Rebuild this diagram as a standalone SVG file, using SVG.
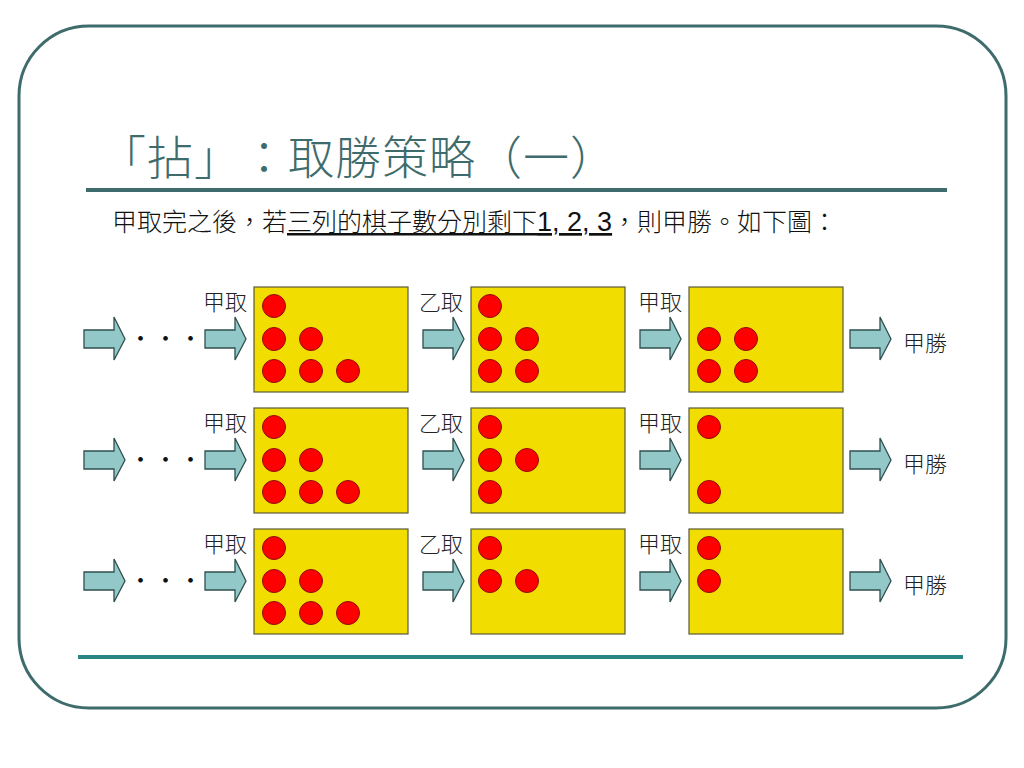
<svg xmlns="http://www.w3.org/2000/svg" xmlns:xlink="http://www.w3.org/1999/xlink" width="1024" height="768" viewBox="0 0 1024 768">
<style>
text{text-spacing-trim:space-all}
.frame{fill:none;stroke:#3e6b6b;stroke-width:3}
.box{fill:#f2dd00;stroke:#5a5a3a;stroke-width:1.2}
.chip{fill:#ff0000;stroke:#8a1010;stroke-width:1}
.arr{fill:#93c8c8;stroke:#2f4f4f;stroke-width:1.3;stroke-linejoin:miter}
.lbl{font-family:"Noto Sans CJK TC","Noto Sans CJK SC",sans-serif;font-size:22px;fill:#222;font-weight:300}
.sub{font-family:"Liberation Sans","Noto Sans CJK TC",sans-serif;font-size:25px;fill:#111;font-weight:300}
.title{font-family:"Noto Sans CJK TC",sans-serif;font-size:46px;fill:#3e6b6b;font-weight:300;letter-spacing:1px}
.dots{font-family:"Noto Sans CJK TC",sans-serif;font-size:25px;fill:#111;font-weight:300}
</style>
<defs>
<path id="ar" class="arr" d="M0,-9 H30 V-22 L41,0 L30,21 V9 H0 Z"/>
<circle id="c" class="chip" r="11.5"/>
</defs>
<rect width="1024" height="768" fill="#ffffff"/>
<rect class="frame" x="19" y="26" width="987" height="682" rx="70" ry="70"/>
<line x1="86" y1="190" x2="947" y2="190" stroke="#3e6b6b" stroke-width="4"/>
<line x1="78" y1="657" x2="963" y2="657" stroke="#2a8585" stroke-width="4"/>
<text class="title" x="100" y="174">「拈」：取勝策略（一）</text>
<text class="sub" x="112" y="231">甲取完之後，若<tspan text-decoration="underline">三列的棋子數分別剩下<tspan font-size="27" font-weight="400">1, 2, 3</tspan></tspan>，則甲勝。如下圖：</text>

<g id="connectors">
<use xlink:href="#ar" x="84" y="339"/><use xlink:href="#ar" x="205" y="339"/><use xlink:href="#ar" x="423" y="339"/><use xlink:href="#ar" x="640" y="339"/><use xlink:href="#ar" x="850" y="339"/>
<use xlink:href="#ar" x="84" y="460"/><use xlink:href="#ar" x="205" y="460"/><use xlink:href="#ar" x="423" y="460"/><use xlink:href="#ar" x="640" y="460"/><use xlink:href="#ar" x="850" y="460"/>
<use xlink:href="#ar" x="84" y="581"/><use xlink:href="#ar" x="205" y="581"/><use xlink:href="#ar" x="423" y="581"/><use xlink:href="#ar" x="640" y="581"/><use xlink:href="#ar" x="850" y="581"/>
</g>

<g id="row1">
<text class="dots" x="128" y="348">・・・</text>
<text class="lbl" x="203" y="310">甲取</text>
<text class="lbl" x="419" y="310">乙取</text>
<text class="lbl" x="638" y="310">甲取</text>
<text class="lbl" x="903" y="351">甲勝</text>
<g id="r1b1"><rect class="box" x="254" y="287" width="154" height="105"/>
<use href="#c" x="274" y="306"/><use href="#c" x="274" y="339"/><use href="#c" x="311" y="339"/><use href="#c" x="274" y="371"/><use href="#c" x="311" y="371"/><use href="#c" x="348" y="371"/></g>
<g id="r1b2"><rect class="box" x="471" y="287" width="154" height="105"/>
<use href="#c" x="490" y="306"/><use href="#c" x="490" y="339"/><use href="#c" x="527" y="339"/><use href="#c" x="490" y="371"/><use href="#c" x="527" y="371"/></g>
<g id="r1b3"><rect class="box" x="689" y="287" width="154" height="105"/>
<use href="#c" x="709" y="339"/><use href="#c" x="746" y="339"/><use href="#c" x="709" y="371"/><use href="#c" x="746" y="371"/></g>
</g>

<g id="row2">
<text class="dots" x="128" y="469">・・・</text>
<text class="lbl" x="203" y="431">甲取</text>
<text class="lbl" x="419" y="431">乙取</text>
<text class="lbl" x="638" y="431">甲取</text>
<text class="lbl" x="903" y="472">甲勝</text>
<g id="r2b1"><rect class="box" x="254" y="408" width="154" height="105"/>
<use href="#c" x="274" y="427"/><use href="#c" x="274" y="460"/><use href="#c" x="311" y="460"/><use href="#c" x="274" y="492"/><use href="#c" x="311" y="492"/><use href="#c" x="348" y="492"/></g>
<g id="r2b2"><rect class="box" x="471" y="408" width="154" height="105"/>
<use href="#c" x="490" y="427"/><use href="#c" x="490" y="460"/><use href="#c" x="527" y="460"/><use href="#c" x="490" y="492"/></g>
<g id="r2b3"><rect class="box" x="689" y="408" width="154" height="105"/>
<use href="#c" x="709" y="427"/><use href="#c" x="709" y="492"/></g>
</g>

<g id="row3">
<text class="dots" x="128" y="590">・・・</text>
<text class="lbl" x="203" y="552">甲取</text>
<text class="lbl" x="419" y="552">乙取</text>
<text class="lbl" x="638" y="552">甲取</text>
<text class="lbl" x="903" y="593">甲勝</text>
<g id="r3b1"><rect class="box" x="254" y="529" width="154" height="105"/>
<use href="#c" x="274" y="548"/><use href="#c" x="274" y="581"/><use href="#c" x="311" y="581"/><use href="#c" x="274" y="613"/><use href="#c" x="311" y="613"/><use href="#c" x="348" y="613"/></g>
<g id="r3b2"><rect class="box" x="471" y="529" width="154" height="105"/>
<use href="#c" x="490" y="548"/><use href="#c" x="490" y="581"/><use href="#c" x="527" y="581"/></g>
<g id="r3b3"><rect class="box" x="689" y="529" width="154" height="105"/>
<use href="#c" x="709" y="548"/><use href="#c" x="709" y="581"/></g>
</g>
</svg>
